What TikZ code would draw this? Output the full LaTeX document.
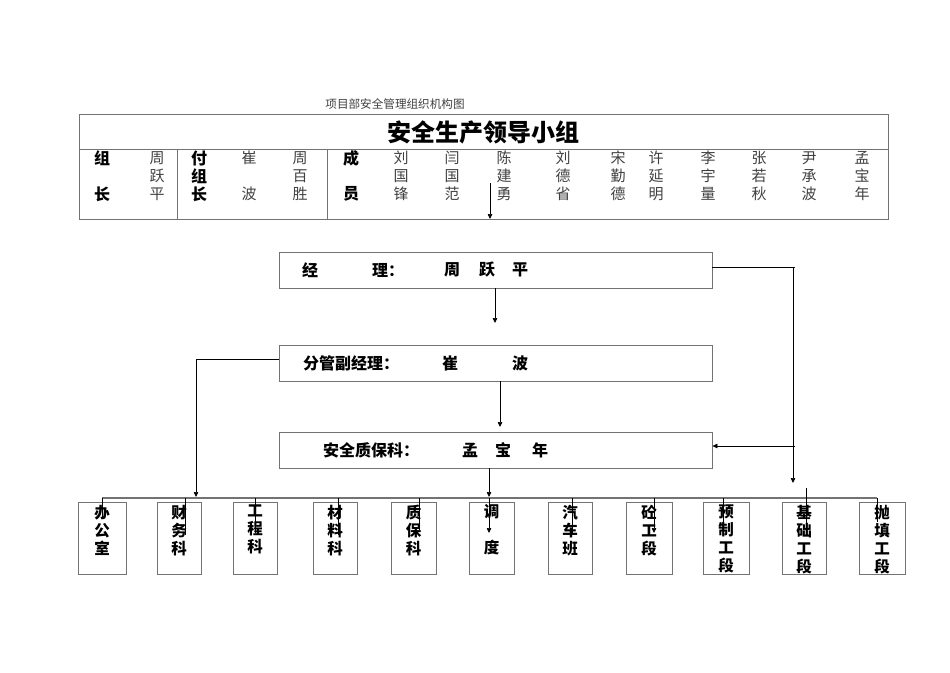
\documentclass[tikz,border=0pt]{standalone}
\usepackage{fontspec}
\setmainfont{Noto Sans CJK SC}
\usetikzlibrary{arrows.meta,positioning}
\definecolor{boxgray}{gray}{0.45}
\definecolor{namegray}{gray}{0.25}
\tikzset{
  frame/.style={draw=boxgray, line width=0.8pt},
  rolebox/.style={draw=boxgray, line width=0.8pt, minimum width=433pt, minimum height=36pt, inner sep=0pt},
  dept/.style={draw=boxgray, line width=0.8pt, minimum height=72pt, inner sep=0pt},
  depttext/.style={anchor=north, inner sep=0pt, font=\fontsize{15.5}{18}\selectfont\bfseries, align=center, yshift=-3pt},
  lbl/.style={font=\fontsize{16}{16}\selectfont\bfseries, inner sep=0pt},
  nm/.style={font=\fontsize{15}{15}\selectfont, text=namegray, inner sep=0pt},
  rt/.style={font=\fontsize{16}{16}\selectfont\bfseries, inner sep=0pt, anchor=west},
  conn/.style={line width=0.7pt},
  arr/.style={line width=0.7pt, -{Triangle[length=5pt,width=4.5pt]}},
  tick/.style={line width=0.6pt},
}
\begin{document}
\begin{tikzpicture}[x=1pt,y=-1pt]
\useasboundingbox (0,0) rectangle (950,672);
% subtitle
\node[font=\fontsize{11.6}{11.6}\selectfont, text=namegray, inner sep=0pt] (sub) at (395,104) {项目部安全管理组织机构图};
% table
\draw[frame] (79,114) rectangle (888,219);
\draw[frame] (79,149) -- (888,149);
\draw[frame] (177,149) -- (177,219);
\draw[frame] (327,149) -- (327,219);
\node[font=\fontsize{24}{24}\selectfont\bfseries, inner sep=0pt] (title) at (483,132) {安全生产领导小组};
% row labels
\node[lbl] (l1) at (102,158) {组};
\node[lbl] (l2) at (102,194) {长};
\node[lbl] (l3) at (199,158) {付};
\node[lbl] (l4) at (199,176) {组};
\node[lbl] (l5) at (199,194) {长};
\node[lbl] (l6) at (351,158) {成};
\node[lbl] (l7) at (351,194) {员};
% names
\node[nm] (n1a) at (157,158) {周};
\node[nm] (n1b) at (157,176) {跃};
\node[nm] (n1c) at (157,194) {平};
\node[nm] (n2a) at (249,158) {崔};
\node[nm] (n2c) at (249,194) {波};
\node[nm] (n3a) at (300,158) {周};
\node[nm] (n3b) at (300,176) {百};
\node[nm] (n3c) at (300,194) {胜};
\foreach \x/\a/\b/\c [count=\i] in {401/刘/国/锋, 452/闫/国/范, 504/陈/建/勇, 563/刘/德/省, 618/宋/勤/德, 656/许/延/明, 708/李/宇/量, 759/张/若/秋, 809/尹/承/波, 862/孟/宝/年}{
  \node[nm] (m\i a) at (\x,158) {\a};
  \node[nm] (m\i b) at (\x,176) {\b};
  \node[nm] (m\i c) at (\x,194) {\c};
}
\coordinate (tstart) at (490,183);
\coordinate (tend) at (490,219);
\draw[arr] (tstart) -- (tend);
% role boxes
\node[rolebox] (mgr) at (495.5,270) {};
\node[rolebox] (dep) at (495.5,363) {};
\node[rolebox] (saf) at (495.5,450) {};
\node[rt] (mg1) at (302,270) {经};
\node[rt] (mg2) at (372,270) {理：};
\node[rt] (mg3) at (444,270) {周};
\node[rt] (mg4) at (479,270) {跃};
\node[rt] (mg5) at (512,270) {平};
\node[rt] (dp1) at (303,363) {分管副经理：};
\node[rt] (dp2) at (442,363) {崔};
\node[rt] (dp3) at (512,363) {波};
\node[rt] (sf1) at (323,450) {安全质保科：};
\node[rt] (sf2) at (462,450) {孟};
\node[rt] (sf3) at (495,450) {宝};
\node[rt] (sf4) at (532,450) {年};
% connectors between role boxes
\coordinate (a1) at (495,323);
\draw[arr] (mgr.south -| a1) -- (a1);
\coordinate (a2) at (500,427);
\draw[arr] (dep.south -| a2) -- (a2);
\coordinate (rtop) at (795,267);
\coordinate (rv) at (793,267);
\coordinate (rbot) at (793,483);
\draw[conn] ([yshift=3pt]mgr.east) -- (rtop);
\draw[arr] (rv) -- (rbot);
\coordinate (rmid) at (795,446);
\draw[arr] (rmid) -- ([yshift=4pt]saf.east);
\coordinate (lc) at (196,359);
\coordinate (lb) at (196,497);
\draw[arr] ([yshift=4pt]dep.west) -- (lc) -- (lb);
% bus
\coordinate (busL) at (102,498);
\coordinate (busR) at (877,498);
\draw[draw=boxgray, line width=1.6pt] (busL) -- (busR);
\coordinate (s1) at (489,497);
\draw[arr] (saf.south -| s1) -- (s1);
% departments
\foreach \l/\r/\t [count=\i] in {78/126/{办\\公\\室}, 157/201/{财\\务\\科}, 233/277/{工\\程\\科}, 313/357/{材\\料\\科}, 391/436/{质\\保\\科}, 469/514/{调\\\\度}, 548/592/{汽\\车\\班}, 626/672/{砼\\工\\段}, 703/749/{预\\制\\工\\段}, 782/826/{基\\础\\工\\段}, 859/905/{抛\\填\\工\\段}}{
  \pgfmathsetmacro{\cx}{(\l+\r)/2}
  \pgfmathsetmacro{\w}{\r-\l}
  \node[dept, minimum width=\w pt] (d\i) at (\cx,538) {};
  \node[depttext] (t\i) at (d\i.north) {\t};
}
% ticks from bus into department boxes
\draw[tick] (102,498) -- (102,518);
\draw[tick] (185,498) -- (185,535);
\draw[tick] (255,498) -- (255,533);
\draw[tick] (338,498) -- (338,535);
\draw[tick] (419,498) -- (419,530);
\draw[arr] (489,498) -- (489,533);
\draw[tick] (572,498) -- (572,535);
\draw[arr] (654,498) -- (654,533);
\draw[tick] (723,498) -- (723,530);
\draw[tick] (806,488) -- (806,523);
\draw[tick] (877,498) -- (877,522);
\end{tikzpicture}
\end{document}
